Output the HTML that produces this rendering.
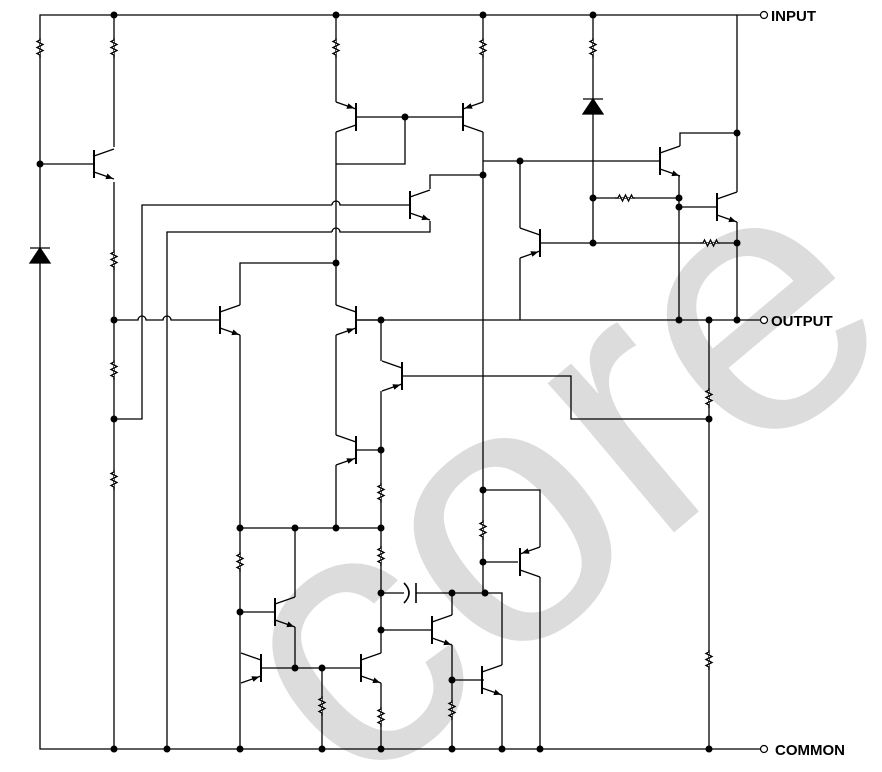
<!DOCTYPE html>
<html><head><meta charset="utf-8"><style>
html,body{margin:0;padding:0;background:#fff;width:882px;height:772px;overflow:hidden}
svg{display:block}
text.l{font-family:"Liberation Sans",sans-serif;font-weight:bold;font-size:15px;fill:#000}
</style></head><body>
<svg width="882" height="772" viewBox="0 0 882 772" xmlns="http://www.w3.org/2000/svg" overflow="hidden">
<defs>
<g id="npn" stroke="#000" fill="none" stroke-width="1.3">
<line x1="0" y1="-14" x2="0" y2="14" stroke-width="2"/>
<polyline points="0,-8 20,-15"/><polyline points="0,8 20,15"/>
<polygon points="19,14.6 11.4,15.1 13.4,9.5" fill="#000" stroke="none"/>
</g>
<g id="pnp" stroke="#000" fill="none" stroke-width="1.3">
<line x1="0" y1="-14" x2="0" y2="14" stroke-width="2"/>
<polyline points="0,-8 20,-15"/><polyline points="0,8 20,15"/>
<polygon points="1.5,8.6 7.6,13.8 9.6,8.2" fill="#000" stroke="none"/>
</g>
<path id="rv" d="M0,-10 L0,-8 L-3,-6.5 L3,-3.5 L-3,-0.5 L3,2.5 L-3,5.5 L0,7 L0,10" fill="#fff" stroke="#000" stroke-width="1.3"/>
<clipPath id="cp"><rect x="0" y="0" width="882" height="772"/></clipPath>
</defs>
<g clip-path="url(#cp)">
<text x="355" y="800" transform="rotate(-40 355 800)" font-family="Liberation Sans,sans-serif" font-size="370" fill="#dcdcdc">core</text>
</g>
<g stroke="#000" stroke-width="1.3" fill="none">
<polyline points="760,15 40,15 40,749 760,749"/>
<line x1="357" y1="320" x2="760" y2="320"/>
<polyline points="114,15 114,147"/>
<line x1="40" y1="164" x2="93" y2="164"/>
<polyline points="114,182 114,749"/>
<path d="M114,320 L138,320 a4,4 0 0 1 8,0 L163,320 a4,4 0 0 1 8,0 L220,320"/>
<polyline points="114,419 142,419 142,205 332,205"/>
<path d="M332,205 a4,4 0 0 1 8,0 L410,205"/>
<polyline points="167,749 167,232 332,232"/>
<path d="M332,232 a4,4 0 0 1 8,0 L430,232 430,221"/>
<line x1="336" y1="15" x2="336" y2="102"/>
<line x1="483" y1="15" x2="483" y2="102"/>
<line x1="356" y1="117" x2="462" y2="117"/>
<polyline points="336,132 336,263"/>
<polyline points="336,164 405,164 405,117"/>
<polyline points="483,132 483,593"/>
<polyline points="430,189 430,175 483,175"/>
<line x1="483" y1="161" x2="660" y2="161"/>
<polyline points="336,263 240,263 240,305"/>
<line x1="336" y1="263" x2="336" y2="305"/>
<line x1="356" y1="320" x2="381" y2="320"/>
<polyline points="240,335 240,749"/>
<polyline points="336,335 336,435"/>
<polyline points="381,320 381,361"/>
<polyline points="403,376 571,376 571,419 709,419"/>
<polyline points="381,391 381,450 356,450"/>
<polyline points="336,465 336,528"/>
<line x1="381" y1="450" x2="381" y2="653"/>
<line x1="240" y1="528" x2="381" y2="528"/>
<polyline points="295,528 295,597"/>
<line x1="240" y1="612" x2="274" y2="612"/>
<polyline points="295,627 295,668"/>
<line x1="262" y1="668" x2="362" y2="668"/>
<line x1="322" y1="668" x2="322" y2="749"/>
<line x1="381" y1="683" x2="381" y2="749"/>
<line x1="381" y1="593" x2="404" y2="593"/>
<path d="M404,583 Q414,593 404,603" stroke-width="1.6"/>
<line x1="416" y1="583" x2="416" y2="603" stroke-width="1.6"/>
<polyline points="416,593 502,593 502,665"/>
<line x1="381" y1="630" x2="432" y2="630"/>
<line x1="452" y1="593" x2="452" y2="615"/>
<line x1="452" y1="645" x2="452" y2="749"/>
<line x1="452" y1="680" x2="484" y2="680"/>
<line x1="502" y1="695" x2="502" y2="749"/>
<line x1="483" y1="562" x2="518" y2="562"/>
<polyline points="483,490 540,490 540,547"/>
<line x1="540" y1="577" x2="540" y2="749"/>
<line x1="593" y1="15" x2="593" y2="243"/>
<line x1="593" y1="198" x2="679" y2="198"/>
<line x1="540" y1="243" x2="737" y2="243"/>
<polyline points="520,161 520,228"/>
<line x1="520" y1="258" x2="520" y2="320"/>
<polyline points="680,146 680,133 737,133"/>
<line x1="737" y1="15" x2="737" y2="192"/>
<polyline points="680,176 679,176 679,320"/>
<line x1="679" y1="207" x2="717" y2="207"/>
<line x1="737" y1="222" x2="737" y2="320"/>
<line x1="709" y1="320" x2="709" y2="749"/>
</g>
<use href="#rv" x="40" y="48"/><use href="#rv" x="114" y="48"/><use href="#rv" x="336" y="48"/><use href="#rv" x="483" y="48"/><use href="#rv" x="593" y="48"/>
<use href="#rv" x="114" y="260"/><use href="#rv" x="114" y="370"/><use href="#rv" x="114" y="480"/>
<use href="#rv" x="381" y="493"/><use href="#rv" x="381" y="556"/><use href="#rv" x="240" y="562"/>
<use href="#rv" x="322" y="706"/><use href="#rv" x="381" y="717"/><use href="#rv" x="452" y="710"/>
<use href="#rv" x="483" y="530"/><use href="#rv" x="709" y="398"/><use href="#rv" x="709" y="660"/>
<use href="#rv" transform="translate(625,198) rotate(90)"/><use href="#rv" transform="translate(710,243) rotate(90)"/>
<use href="#npn" transform="translate(94,164)"/>
<use href="#pnp" transform="translate(356,117) scale(-1,-1)"/>
<use href="#pnp" transform="translate(463,117) scale(1,-1)"/>
<use href="#npn" transform="translate(410,205)"/>
<use href="#npn" transform="translate(220,320)"/>
<use href="#pnp" transform="translate(356,320) scale(-1,1)"/>
<use href="#pnp" transform="translate(402,376) scale(-1,1)"/>
<use href="#pnp" transform="translate(356,450) scale(-1,1)"/>
<use href="#npn" transform="translate(275,612)"/>
<use href="#pnp" transform="translate(261,668) scale(-1,1)"/>
<use href="#npn" transform="translate(361,668)"/>
<use href="#npn" transform="translate(432,630)"/>
<use href="#npn" transform="translate(482,680)"/>
<use href="#pnp" transform="translate(520,562) scale(1,-1)"/>
<use href="#pnp" transform="translate(540,243) scale(-1,1)"/>
<use href="#npn" transform="translate(660,161)"/>
<use href="#npn" transform="translate(717,207)"/>
<g fill="#000" stroke="#000" stroke-width="1.3">
<line x1="30" y1="248" x2="50" y2="248"/><polygon points="40,248 30,263 50,263"/>
<line x1="583" y1="99" x2="603" y2="99"/><polygon points="593,99 583,114 603,114"/>
</g>
<g fill="#000">
<circle cx="114" cy="15" r="3.5"/><circle cx="336" cy="15" r="3.5"/><circle cx="483" cy="15" r="3.5"/><circle cx="593" cy="15" r="3.5"/>
<circle cx="40" cy="164" r="3.5"/><circle cx="405" cy="117" r="3.5"/><circle cx="336" cy="263" r="3.5"/><circle cx="114" cy="320" r="3.5"/>
<circle cx="381" cy="320" r="3.5"/><circle cx="114" cy="419" r="3.5"/><circle cx="483" cy="175" r="3.5"/><circle cx="520" cy="161" r="3.5"/>
<circle cx="593" cy="198" r="3.5"/><circle cx="593" cy="243" r="3.5"/><circle cx="679" cy="198" r="3.5"/><circle cx="679" cy="207" r="3.5"/>
<circle cx="737" cy="133" r="3.5"/><circle cx="737" cy="243" r="3.5"/><circle cx="679" cy="320" r="3.5"/><circle cx="709" cy="320" r="3.5"/><circle cx="737" cy="320" r="3.5"/>
<circle cx="709" cy="419" r="3.5"/><circle cx="381" cy="450" r="3.5"/>
<circle cx="240" cy="528" r="3.5"/><circle cx="295" cy="528" r="3.5"/><circle cx="336" cy="528" r="3.5"/><circle cx="381" cy="528" r="3.5"/>
<circle cx="240" cy="612" r="3.5"/><circle cx="295" cy="668" r="3.5"/><circle cx="322" cy="668" r="3.5"/>
<circle cx="381" cy="593" r="3.5"/><circle cx="381" cy="630" r="3.5"/><circle cx="452" cy="593" r="3.5"/><circle cx="485" cy="593" r="3.5"/>
<circle cx="452" cy="680" r="3.5"/><circle cx="483" cy="490" r="3.5"/><circle cx="483" cy="562" r="3.5"/>
<circle cx="114" cy="749" r="3.5"/><circle cx="167" cy="749" r="3.5"/><circle cx="240" cy="749" r="3.5"/><circle cx="322" cy="749" r="3.5"/>
<circle cx="381" cy="749" r="3.5"/><circle cx="452" cy="749" r="3.5"/><circle cx="502" cy="749" r="3.5"/><circle cx="540" cy="749" r="3.5"/><circle cx="709" cy="749" r="3.5"/>
</g>
<g fill="#fff" stroke="#000" stroke-width="1.2">
<circle cx="764" cy="15" r="3.5"/><circle cx="764" cy="320" r="3.5"/><circle cx="764" cy="749" r="3.5"/>
</g>
<text class="l" x="771" y="21">INPUT</text>
<text class="l" x="771" y="326">OUTPUT</text>
<text class="l" x="775" y="755">COMMON</text>
</svg>
</body></html>
